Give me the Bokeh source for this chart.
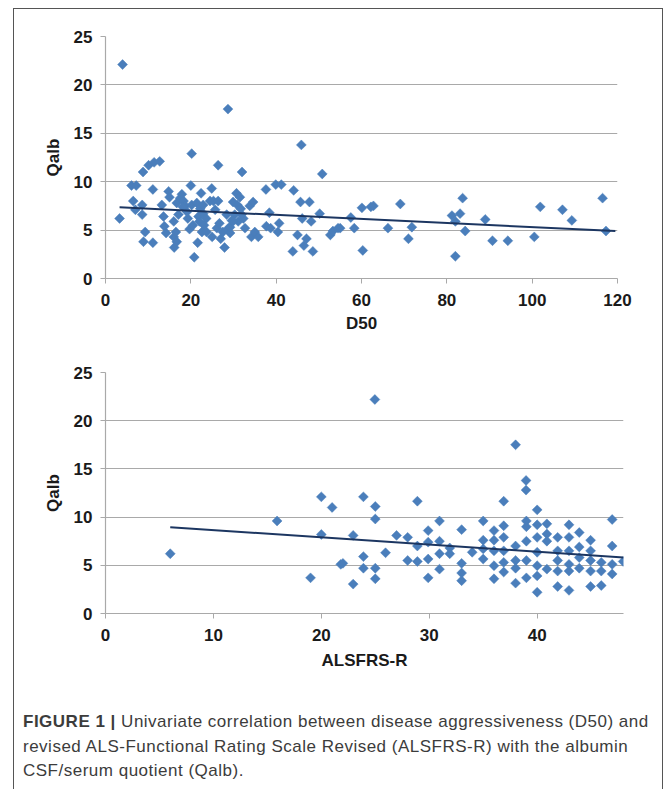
import numpy as np
from bokeh.plotting import figure
from bokeh.models import Range1d, FixedTicker, Div
from bokeh.layouts import column
from bokeh.embed import file_html
from bokeh.resources import INLINE

# ---------------- data ----------------
d50 = [3.3, 4.0, 6.1, 7.2, 6.5, 7.0, 8.6, 8.8, 8.6, 8.9, 9.3, 10.1, 11.4, 12.7, 11.1, 11.1,
       13.2, 13.6, 13.8, 14.2, 14.8, 15.0, 16.0, 16.0, 16.1, 16.7, 16.5, 16.7, 17.1, 17.5,
       17.9, 18.3, 18.7, 19.3, 19.7, 20.0, 20.2, 20.2, 20.5, 20.8, 21.4, 21.6, 21.8, 22.0,
       22.4, 22.6, 22.9, 23.1, 23.6, 24.5, 24.9, 25.0, 25.3, 25.7, 26.1, 26.4, 26.4, 26.7,
       27.0, 27.5, 27.9, 28.4, 28.7, 28.8, 29.2, 29.6, 29.9, 30.3, 30.7, 30.9, 31.1, 31.5,
       31.7, 32.0, 32.3, 32.7, 33.8, 34.2, 34.6, 35.0, 35.8, 37.6, 37.7, 38.4, 38.7, 39.9,
       40.4, 40.7, 41.2, 43.9, 44.1, 45.0, 45.7, 45.9, 46.1, 46.5, 47.1, 47.8, 48.2, 48.6,
       50.2, 50.8, 52.7, 53.3, 54.5, 22.2, 23.7, 29.2, 29.9, 31.9, 19.1, 18.1, 22.9,
       55.0, 57.5, 58.3, 60.1, 60.3, 62.2, 62.8, 66.2, 69.1, 71.0, 71.8, 81.2, 82.0, 82.0,
       83.1, 83.7, 84.3, 89.0, 90.7, 94.3, 100.5, 101.9, 107.1, 109.3, 116.5, 117.3]
qalb_d50 = [6.2, 22.1, 9.6, 9.6, 8.0, 7.1, 7.6, 11.0, 6.6, 3.8, 4.8, 11.7, 12.0, 12.1, 3.7, 9.2,
            7.6, 6.4, 5.4, 4.7, 9.0, 8.4, 5.9, 4.3, 3.2, 3.8, 4.8, 7.8, 6.6, 8.3,
            8.7, 8.0, 7.5, 6.2, 5.1, 9.6, 12.9, 7.6, 5.5, 2.2, 7.8, 3.7, 6.4, 5.9,
            8.8, 4.8, 6.7, 5.5, 6.2, 8.0, 9.3, 4.3, 8.0, 7.1, 5.2, 8.0, 11.7, 5.7,
            4.1, 4.8, 3.2, 6.6, 17.5, 5.2, 4.7, 6.0, 7.9, 6.6, 8.8, 7.6, 5.9, 8.4,
            7.2, 11.0, 6.2, 5.2, 7.5, 4.3, 7.9, 4.8, 4.3, 9.2, 5.4, 6.8, 5.2, 9.7,
            4.8, 5.7, 9.7, 2.8, 9.1, 4.5, 7.9, 13.8, 6.2, 3.4, 4.1, 7.9, 5.9, 2.8,
            6.7, 10.8, 4.5, 4.9, 5.2, 7.2, 4.8, 5.3, 5.9, 6.6, 6.9, 7.4, 7.6,
            5.2, 6.3, 5.2, 7.3, 2.9, 7.4, 7.5, 5.2, 7.7, 4.1, 5.3, 6.5, 5.9, 2.3,
            6.7, 8.3, 4.9, 6.1, 3.9, 3.9, 4.3, 7.4, 7.1, 6.0, 8.3, 4.9]
d50_trend_x = [3.3, 119.5]
d50_trend_y = [7.35, 4.9]

alsfrs = [6.0, 15.9, 19.0, 20.0, 20.0, 21.0, 21.8,
          22.0, 22.95, 22.95, 23.9, 23.9, 23.9, 24.96, 25.0, 25.0, 25.0, 25.0, 25.95, 26.97,
          28.0, 28.0, 28.9, 28.9, 28.9, 29.9, 29.9, 29.9, 29.9, 30.95, 30.95, 30.95, 30.95,
          31.9, 31.9, 33.0, 33.0, 33.0, 33.0, 33.98, 35.0, 35.0, 35.0, 35.0,
          36.0, 36.0, 36.0, 36.0, 36.0, 36.9, 36.9, 36.9, 36.9, 36.9, 36.9,
          38.0, 38.0, 38.0, 38.0, 38.0, 38.97, 38.97, 39.0, 39.0, 39.0, 39.0, 39.0,
          40.0, 40.0, 40.0, 40.0, 40.0, 40.0, 40.0, 40.9, 40.9, 40.9, 40.9,
          41.9, 41.9, 41.9, 41.9, 41.9, 42.95, 42.95, 42.95, 42.95, 42.95, 42.95,
          43.9, 43.9, 43.9, 43.9, 44.95, 44.95, 44.95, 44.95, 44.95,
          45.94, 45.94, 45.94, 46.95, 46.95, 46.95, 46.95, 47.97]
qalb_als = [6.2, 9.6, 3.7, 12.1, 8.2, 11.0, 5.1,
            5.2, 8.1, 3.05, 12.1, 5.9, 4.7, 22.2, 11.1, 9.8, 4.7, 3.6, 6.3, 8.1,
            7.9, 5.5, 11.65, 7.0, 5.4, 8.6, 7.4, 5.65, 3.7, 9.6, 7.5, 6.2, 4.6,
            6.8, 6.2, 8.7, 5.2, 4.2, 3.4, 6.35, 9.6, 7.6, 6.7, 5.65,
            8.6, 7.6, 6.5, 4.96, 3.6, 11.65, 9.1, 7.9, 6.5, 5.3, 4.3,
            17.5, 7.0, 5.5, 4.7, 3.15, 13.8, 12.8, 9.6, 9.0, 7.5, 5.5, 3.7,
            10.75, 9.2, 7.9, 6.35, 4.96, 3.9, 2.2, 9.3, 8.25, 7.5, 4.6,
            7.9, 6.5, 5.5, 4.4, 2.8, 9.2, 7.9, 6.5, 5.1, 4.4, 2.4,
            8.4, 6.9, 5.8, 4.7, 7.6, 6.5, 5.5, 4.4, 2.8,
            5.3, 4.4, 2.9, 9.75, 7.0, 5.1, 4.1, 5.4]
als_trend_x = [6.0, 48.0]
als_trend_y = [8.95, 5.8]

d50_ticks = [0, 20, 40, 60, 80, 100, 120]
als_ticks = [0, 10, 20, 30, 40]
qalb_ticks = [0, 5, 10, 15, 20, 25]

MARKER = "#4a7ebb"
TREND = "#1c3661"
GRID = "#a9a9a9"
FONT = "Liberation Sans"


def make_fig(xmax, xticks, xlabel, xs, ys, tx, ty, height, borders, xl_standoff):
    top, right, bottom, left = borders
    p = figure(width=648, height=height, output_backend="svg", toolbar_location=None,
               x_range=Range1d(0, xmax), y_range=Range1d(0, 25),
               min_border_top=top, min_border_right=right,
               min_border_bottom=bottom, min_border_left=left)
    p.frame_align = False
    p.outline_line_color = None
    p.background_fill_color = "white"
    p.border_fill_color = "white"
    p.xaxis.ticker = FixedTicker(ticks=xticks)
    p.yaxis.ticker = FixedTicker(ticks=qalb_ticks)
    p.xgrid.visible = False
    p.ygrid.ticker = FixedTicker(ticks=qalb_ticks)
    p.ygrid.grid_line_color = GRID
    p.ygrid.grid_line_width = 1.2
    p.axis.axis_line_color = GRID
    p.axis.axis_line_width = 1.2
    p.axis.major_tick_line_color = GRID
    p.axis.major_tick_in = 0
    p.axis.major_tick_out = 5
    p.axis.minor_tick_line_color = None
    p.axis.major_label_text_font = FONT
    p.axis.major_label_text_font_style = "bold"
    p.axis.major_label_text_font_size = "17px"
    p.axis.major_label_text_color = "#1a1a1a"
    p.axis.axis_label_text_font = FONT
    p.axis.axis_label_text_font_style = "bold"
    p.axis.axis_label_text_font_size = "17px"
    p.axis.axis_label_text_color = "#1a1a1a"
    p.yaxis.major_label_standoff = 8
    p.xaxis.major_label_standoff = 10
    p.xaxis.axis_label_standoff = xl_standoff
    p.yaxis.axis_label_standoff = 8
    p.xaxis.axis_label = xlabel
    p.yaxis.axis_label = "Qalb"
    p.scatter(xs, ys, marker="square", size=7, angle=np.pi / 4,
              fill_color=MARKER, line_color=MARKER, line_width=0.5)
    p.line(tx, ty, line_color=TREND, line_width=2)
    return p


p1 = make_fig(120, d50_ticks, "D50", d50, qalb_d50, d50_trend_x, d50_trend_y,
              335, (27, 45, 66, 91), 5)
p2 = make_fig(48, als_ticks, "ALSFRS-R", alsfrs, qalb_als, als_trend_x, als_trend_y,
              346, (28, 39, 77, 91), 7)

caption = Div(
    text=('<b>FIGURE 1 |</b> Univariate correlation between disease aggressiveness (D50) and<br>'
          'revised ALS-Functional Rating Scale Revised (ALSFRS-R) with the albumin<br>'
          'CSF/serum quotient (Qalb).'),
    width=636, height=90, margin=(20, 0, 0, 9),
    styles={"font-family": "Liberation Sans, Arial, sans-serif", "font-size": "17px",
            "line-height": "24.5px", "color": "#3c3c3c", "letter-spacing": "0.5px",
            "white-space": "nowrap"})

layout = column(p1, p2, caption, margin=(8, 0, 0, 13),
                styles={"border": "1.5px solid #555555", "background-color": "white"})

open("out.html", "w").write(file_html(layout, INLINE))
